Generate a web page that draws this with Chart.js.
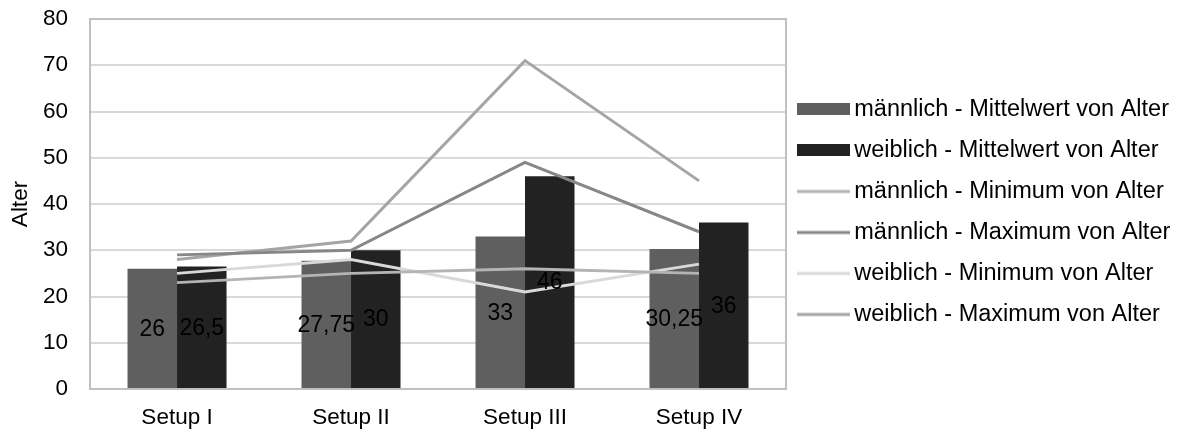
<!DOCTYPE html>
<html>
<head>
<meta charset="utf-8">
<script src="https://cdn.jsdelivr.net/npm/chart.js@4.4.0/dist/chart.umd.min.js"></script>
<style>
  html, body { margin: 0; padding: 0; background: #fff; }
  #wrap { width: 1184px; height: 430px; }
</style>
</head>
<body>
<div id="wrap"><canvas id="chart"></canvas></div>
<script>
const labels = ['Setup I', 'Setup II', 'Setup III', 'Setup IV'];
const maleMean = [26, 27.75, 33, 30.25];
const femaleMean = [26.5, 30, 46, 36];
const maleMin = [23, 25, 26, 25];
const maleMax = [29, 30, 49, 34];
const femaleMin = [25, 28, 21, 27];
const femaleMax = [28, 32, 71, 45];
const yTicks = [0, 10, 20, 30, 40, 50, 60, 70, 80];

const FONT = "'Liberation Sans', Arial, sans-serif";
Chart.defaults.font.family = FONT;
Chart.defaults.font.size = 22.5;
Chart.defaults.color = '#000';

// legend swatches are canvases, a bit wider than the legend box
function swatch(color, kind) {
    const c = document.createElement('canvas');
    c.width = 53;
    c.height = 12;
    const g = c.getContext('2d');
    g.fillStyle = color;
    if (kind === 'bar') {
        g.fillRect(0, 0, 53, 12);
    } else {
        g.fillRect(0, 4.5, 53, 3);
    }
    return c;
}

const barLabels = {
    id: 'barLabels',
    afterDatasetsDraw(chart) {
        const ctx = chart.ctx;
        ctx.save();
        ctx.font = '23px ' + FONT;
        ctx.fillStyle = '#000';
        ctx.textAlign = 'center';
        ctx.textBaseline = 'middle';
        [0, 1].forEach((i) => {
            const meta = chart.getDatasetMeta(i);
            meta.data.forEach((bar, j) => {
                const v = chart.data.datasets[i].data[j];
                ctx.fillText(String(v).replace('.', ','), bar.x, (bar.y + bar.base) / 2 + 1);
            });
        });
        ctx.restore();
    }
};

const frame = {
    id: 'frame',
    // legend box is capped at a quarter of the width; widen it so the text is not clipped
    afterLayout(chart) {
        const l = chart.legend;
        l.right = chart.width;
        l.width = l.right - l.left;
    },
    beforeDatasetsDraw(chart) {
        const {ctx, chartArea: a} = chart;
        ctx.save();
        ctx.strokeStyle = '#c0c0c0';
        ctx.lineWidth = 2;
        ctx.beginPath();
        ctx.moveTo(a.left, a.top);
        ctx.lineTo(a.right, a.top);
        ctx.lineTo(a.right, a.bottom);
        ctx.stroke();
        ctx.restore();
    }
};

const datasets = [
    {type: 'bar', label: 'männlich - Mittelwert von Alter', data: maleMean, backgroundColor: '#5f5f5f', order: 1, kind: 'bar'},
    {type: 'bar', label: 'weiblich - Mittelwert von Alter', data: femaleMean, backgroundColor: '#222222', order: 1, kind: 'bar'},
    {type: 'line', label: 'männlich - Minimum von Alter', data: maleMin, borderColor: '#b4b4b4', order: 0, kind: 'line'},
    {type: 'line', label: 'männlich - Maximum von Alter', data: maleMax, borderColor: '#878787', order: 0, kind: 'line'},
    {type: 'line', label: 'weiblich - Minimum von Alter', data: femaleMin, borderColor: '#d9d9d9', order: 0, kind: 'line'},
    {type: 'line', label: 'weiblich - Maximum von Alter', data: femaleMax, borderColor: '#a5a5a5', order: 0, kind: 'line'}
];
datasets.forEach((ds) => {
    if (ds.type === 'line') {
        ds.borderWidth = 3;
        ds.pointRadius = 0;
        ds.tension = 0;
        ds.fill = false;
    } else {
        ds.categoryPercentage = 0.569;
        ds.barPercentage = 1.0;
    }
});

const ctx = document.getElementById('chart').getContext('2d');
const myChart = new Chart(ctx, {
    data: {
        labels: labels,
        datasets: datasets
    },
    options: {
        responsive: true,
        maintainAspectRatio: false,
        animation: false,
        layout: {
            padding: {top: 19, right: 136, bottom: -4, left: 0}
        },
        plugins: {
            tooltip: {enabled: false},
            legend: {
                position: 'right',
                fullSize: false,
                title: {display: true, text: '', font: {size: 13.3}, padding: 0},
                labels: {
                    usePointStyle: true,
                    pointStyleWidth: 39,
                    padding: 17.5,
                    color: '#000',
                    font: {size: 23.5},
                    generateLabels: (chart) => chart.data.datasets.map((ds, i) => ({
                        text: ds.label,
                        pointStyle: swatch(ds.kind === 'bar' ? ds.backgroundColor : ds.borderColor, ds.kind),
                        fillStyle: ds.backgroundColor,
                        strokeStyle: ds.borderColor,
                        lineWidth: 0,
                        fontColor: '#000',
                        hidden: false,
                        datasetIndex: i
                    }))
                }
            }
        },
        scales: {
            x: {
                grid: {display: false, drawTicks: true, tickLength: 12, tickColor: 'rgba(0,0,0,0)'},
                border: {display: true, color: '#c0c0c0', width: 2},
                ticks: {padding: 3, color: '#000'}
            },
            y: {
                min: 0,
                max: 80,
                afterBuildTicks: (axis) => {
                    axis.ticks = yTicks.map((v) => ({value: v}));
                },
                grid: {color: '#d9d9d9', lineWidth: 2, drawTicks: true, tickLength: 19, tickColor: 'rgba(0,0,0,0)'},
                border: {display: true, color: '#c0c0c0', width: 2},
                ticks: {padding: 3, color: '#000'},
                title: {display: true, text: 'Alter', color: '#000', padding: {top: 7, bottom: 6}}
            }
        }
    },
    plugins: [frame, barLabels]
});
</script>
</body>
</html>
